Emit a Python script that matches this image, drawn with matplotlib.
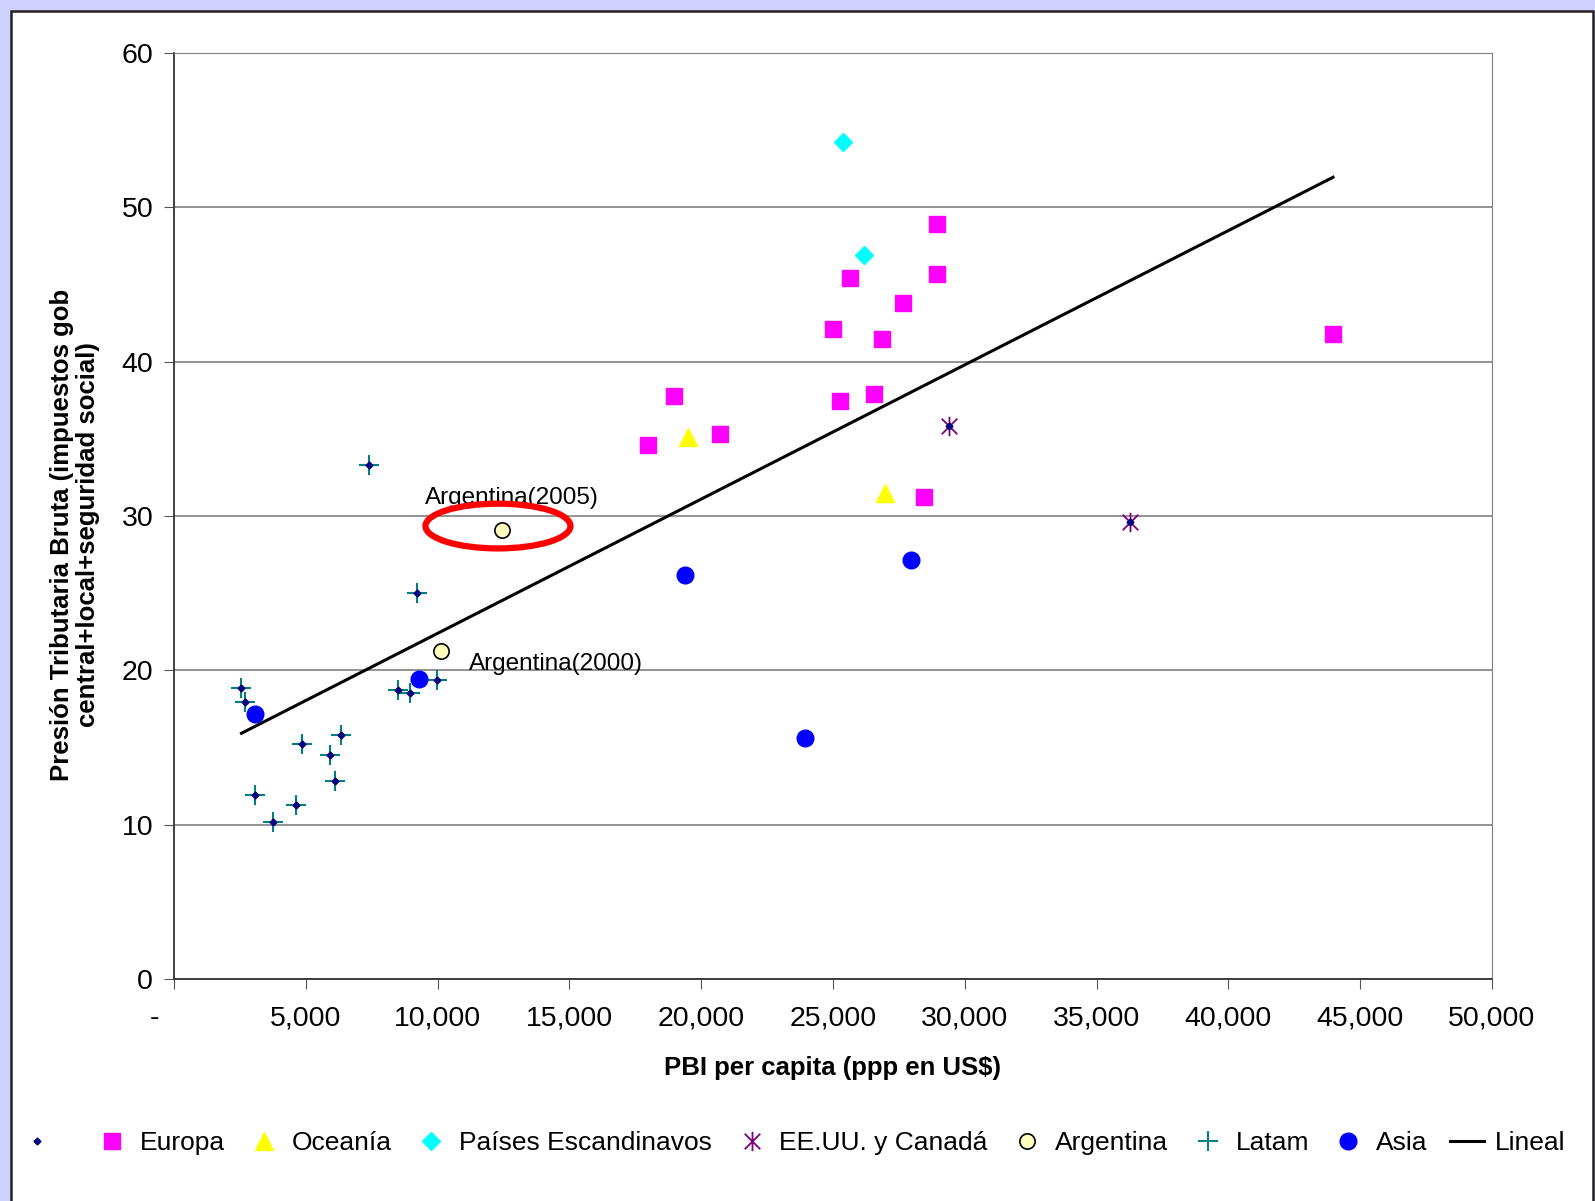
import matplotlib
matplotlib.use('Agg')
import matplotlib.pyplot as plt
import numpy as np
from matplotlib.patches import Ellipse, Rectangle
from matplotlib.path import Path
from matplotlib.ticker import FuncFormatter

plt.rcParams['font.family'] = ['Liberation Sans', 'DejaVu Sans']

# PBI per capita (US$ ppp) y presión tributaria (%)
europa_x = [17980, 18970, 20710, 25000, 25270, 25650, 26560, 26860, 27660, 28950, 28950, 28450, 43970]
europa_y = [34.6, 37.8, 35.3, 42.1, 37.45, 45.4, 37.9, 41.5, 43.8, 48.9, 45.7, 31.2, 41.8]
oceania_x = [19500, 26970]
oceania_y = [35.1, 31.5]
escand_x = [25380, 26180]
escand_y = [54.2, 46.9]
eeuu_x = [29400, 36270]
eeuu_y = [35.8, 29.6]
arg_x = [12440, 10130]
arg_y = [29.1, 21.25]
latam_x = [7400, 9200, 2560, 2710, 8500, 8950, 9970, 4860, 6340, 5920, 6120, 3070, 4640, 3760]
latam_y = [33.3, 25.0, 18.87, 17.93, 18.72, 18.55, 19.36, 15.2, 15.84, 14.5, 12.8, 11.9, 11.27, 10.2]
asia_x = [3070, 9290, 19390, 23940, 27960]
asia_y = [17.17, 19.44, 26.18, 15.6, 27.15]

all_x = np.array(europa_x + oceania_x + escand_x + eeuu_x + arg_x + latam_x + asia_x)
all_y = np.array(europa_y + oceania_y + escand_y + eeuu_y + arg_y + latam_y + asia_y)

fig = plt.figure(figsize=(15.95, 12.01), dpi=100, facecolor='#d0d0fc')
fig.patches.append(Rectangle((11 / 1595, -0.02), 1582 / 1595, 1.02 - 11 / 1201,
                             transform=fig.transFigure, facecolor='white', edgecolor='#222222',
                             lw=1.8, zorder=-5))
ax = fig.add_axes([0.1091, 0.1848, 0.8263, 0.7711])
ax.set_zorder(2)
ax.set_facecolor('white')

# asterisco estilo Excel
star = Path([(0, -1), (0, 1), (-0.8, -0.8), (0.8, 0.8), (-0.8, 0.8), (0.8, -0.8)],
            [Path.MOVETO, Path.LINETO, Path.MOVETO, Path.LINETO, Path.MOVETO, Path.LINETO])

# serie base (todos los datos) con puntos chicos
h0, = ax.plot(all_x, all_y, ls='none', marker='D', ms=3.5, color='#000080', zorder=3.5)
h1, = ax.plot(europa_x, europa_y, ls='none', marker='s', ms=12, color='#ff00ff', zorder=4)
h2, = ax.plot(oceania_x, oceania_y, ls='none', marker='^', ms=13, color='#ffff00', zorder=4)
h3, = ax.plot(escand_x, escand_y, ls='none', marker='D', ms=9.5, color='#00ffff', zorder=4)
h4, = ax.plot(eeuu_x, eeuu_y, ls='none', marker=star, ms=14, color='#800080', mew=1.3, zorder=3)
h5, = ax.plot(arg_x, arg_y, ls='none', marker='o', ms=11, mfc='#ffffc0', mec='black', mew=1.2, zorder=5)
h6, = ax.plot(latam_x, latam_y, ls='none', marker='+', ms=14, color='#008080', mew=1.5, zorder=3)
h7, = ax.plot(asia_x, asia_y, ls='none', marker='o', ms=12, color='#0000ff', zorder=4)

b, a = np.polyfit(all_x, all_y, 1)
xs = np.array([all_x.min(), all_x.max()])
h8, = ax.plot(xs, a + b * xs, color='black', lw=2.2, zorder=2)

ax.add_patch(Ellipse((12290, 29.35), 5500, 2.9, fill=False, edgecolor='#ff0000', lw=4.5, zorder=6))
ax.annotate('Argentina(2005)', (arg_x[0], arg_y[0]), xytext=(7, 23), textcoords='offset points',
            ha='center', va='center', fontsize=17.5)
ax.annotate('Argentina(2000)', (arg_x[1], arg_y[1]), xytext=(20, -9), textcoords='offset points',
            ha='left', va='center', fontsize=17.5)

ax.set_xlim(0, 50000)
ax.set_ylim(0, 60)
ax.set_xticks(np.arange(0, 50001, 5000))
ax.set_yticks(np.arange(0, 61, 10))
ax.xaxis.set_major_formatter(FuncFormatter(lambda v, p: '-     ' if v == 0 else f'{int(v):,}'))
ax.yaxis.grid(True, color='#808080', lw=1.2)
ax.set_axisbelow(True)
ax.tick_params(labelsize=20.5, length=7, direction='out', color='#555555')
ax.tick_params(axis='x', pad=12)
ax.tick_params(axis='y', pad=8)
for s in ['top', 'right']:
    ax.spines[s].set_color('#808080')
for s in ['left', 'bottom']:
    ax.spines[s].set_color('#333333')
    ax.spines[s].set_linewidth(1.3)

fig.text(832 / 1595, 1 - 1068 / 1201, 'PBI per capita (ppp en US$)', ha='center', va='center',
         fontsize=18.5, fontweight='bold')
fig.text(75 / 1595, 1 - 535 / 1201, 'Presión Tributaria Bruta (impuestos gob\ncentral+local+seguridad social)',
         ha='center', va='center', rotation=90, fontsize=18.5, fontweight='bold', linespacing=1.1)

handles = [h0, h1, h2, h3, h4, h5, h6, h7, h8]
labels = [' ', 'Europa', 'Oceanía', 'Países Escandinavos', 'EE.UU. y Canadá', 'Argentina', 'Latam', 'Asia', 'Lineal']
fig.legend(handles, labels, loc='center', bbox_to_anchor=(0.497, 1 - 1143 / 1201), ncol=9, frameon=False,
           fontsize=19, handlelength=1.3, handletextpad=0.4, columnspacing=0.85, markerscale=1.0)

fig.savefig('out.png', dpi=100, facecolor=fig.get_facecolor())
